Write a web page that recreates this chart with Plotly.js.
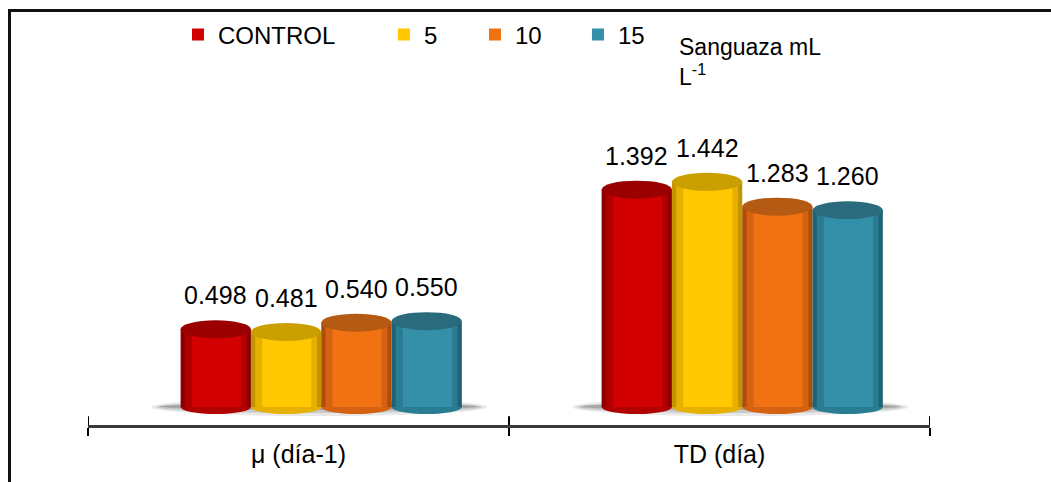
<!DOCTYPE html>
<html>
<head>
<meta charset="utf-8">
<script src="https://cdn.plot.ly/plotly-3.0.1.min.js"></script>
<style>
  html, body { margin: 0; padding: 0; background: #fff; }
  #chart { width: 1051px; height: 482px; }
  #frame {
    position: absolute; left: 8px; top: 9px; right: 0; bottom: 0;
    border-top: 3px solid #111; border-left: 3px solid #111;
    pointer-events: none;
  }
</style>
</head>
<body>
<div id="chart"></div>
<div id="frame"></div>
<script>
// Growth parameters per sanguaza dose
const categories = ['μ (día-1)', 'TD (día)'];
const seriesNames = ['CONTROL', '5', '10', '15'];
const control = [0.498, 1.392];
const dose5 = [0.481, 1.442];
const dose10 = [0.540, 1.283];
const dose15 = [0.550, 1.260];
const seriesValues = [control, dose5, dose10, dose15];

// Cylinder shading: dark edge, mid tone, body, top face
const edgeColors = ['#8a0000', '#c29400', '#ad4e08', '#1f6274'];
const midColors = ['#b00000', '#e6b000', '#d56210', '#2a7c92'];
const bodyColors = ['#d20000', '#ffc800', '#f07212', '#3490a8'];
const topColors = ['#9a0000', '#c9a000', '#b45a12', '#2a6c7e'];

const W = 0.167;           // bar width in category units
const firstOffset = -0.28; // left edge of the first bar relative to the category centre
const offsets = seriesNames.map((_, i) => firstOffset + i * W);

const FONT = 'Liberation Sans, Arial, sans-serif';
const traces = [];
const shapes = [];
const annotations = [];

// soft floor shadow under each group
categories.forEach((c, j) => {
  const x0 = j + offsets[0] - 0.07, x1 = j + offsets[3] + W + 0.06;
  [[-9, 9, 'rgba(0,0,0,0.09)'], [-6, 6, 'rgba(0,0,0,0.13)'], [-3, 4, 'rgba(0,0,0,0.18)']].forEach(s => {
    shapes.push({type: 'circle', xref: 'x', yref: 'y', ysizemode: 'pixel', yanchor: 0,
      x0: x0 + (9 - s[1]) * 0.004, x1: x1 - (9 - s[1]) * 0.004, y0: s[0], y1: s[1],
      fillcolor: s[2], line: {width: 0}, layer: 'below'});
  });
});

seriesNames.forEach((name, i) => {
  const vals = seriesValues[i];
  const off = offsets[i];
  traces.push({type: 'bar', x: categories, y: vals, width: W, offset: off,
    marker: {color: edgeColors[i], line: {width: 0}}, showlegend: false, hoverinfo: 'skip'});
  traces.push({type: 'bar', x: categories, y: vals, width: W * 0.88, offset: off + W * 0.06,
    marker: {color: midColors[i], line: {width: 0}}, showlegend: false, hoverinfo: 'skip'});
  traces.push({type: 'bar', name: name, x: categories, y: vals, width: W * 0.7, offset: off + W * 0.16,
    marker: {color: bodyColors[i], line: {width: 0}}, legend: i === 0 ? 'legend' : 'legend' + (i + 1),
    hoverinfo: 'skip'});

  vals.forEach((v, j) => {
    // rounded base
    shapes.push({type: 'circle', xref: 'x', yref: 'y', ysizemode: 'pixel', yanchor: 0,
      x0: j + off, x1: j + off + W, y0: -7, y1: 7,
      fillcolor: midColors[i], line: {width: 0}, layer: 'below'});
    // top face
    shapes.push({type: 'circle', xref: 'x', yref: 'y', ysizemode: 'pixel', yanchor: v,
      x0: j + off, x1: j + off + W, y0: -9, y1: 9,
      fillcolor: topColors[i], line: {width: 0}, layer: 'above'});
    annotations.push({x: j + off + W / 2, y: v, xref: 'x', yref: 'y', text: v.toFixed(3),
      showarrow: false, yanchor: 'bottom', yshift: 18,
      font: {family: FONT, size: 25, color: '#000'}});
  });
});

// upper half of the crossing tick marks
[-0.5, 0.5, 1.5].forEach(b => {
  shapes.push({type: 'line', xref: 'x', yref: 'paper', x0: b, x1: b, y0: 0, y1: 0.022,
    line: {color: '#000', width: 2}});
});

annotations.push({xref: 'paper', yref: 'paper', x: 0.7, y: 0.975, xanchor: 'left', yanchor: 'top',
  align: 'left', showarrow: false, text: 'Sanguaza mL<br>L<sup>-1</sup>',
  font: {family: FONT, size: 23, color: '#000'}});

const legendBase = {orientation: 'h', yanchor: 'middle', xanchor: 'left', y: 0.968,
  bgcolor: 'rgba(0,0,0,0)', font: {family: FONT, size: 24, color: '#000'}, itemclick: false};
const legendX = [0.1069, 0.3515, 0.4596, 0.5819];

const layout = {
  width: 1051, height: 482,
  margin: {l: 88, r: 121, t: 20, b: 57},
  paper_bgcolor: '#fff', plot_bgcolor: '#fff',
  barmode: 'overlay',
  showlegend: true,
  legend: Object.assign({}, legendBase, {x: legendX[0]}),
  legend2: Object.assign({}, legendBase, {x: legendX[1]}),
  legend3: Object.assign({}, legendBase, {x: legendX[2]}),
  legend4: Object.assign({}, legendBase, {x: legendX[3]}),
  xaxis: {type: 'category', range: [-0.5, 1.5], showline: true, linecolor: '#3a3a3a', linewidth: 2.5,
    ticks: 'outside', tickson: 'boundaries', ticklen: 8, tickwidth: 2, tickcolor: '#000',
    showgrid: false, zeroline: false, ticklabelstandoff: 5,
    tickfont: {family: FONT, size: 25, color: '#000'}},
  yaxis: {visible: false, range: [-0.1146, 2.465], showgrid: false, zeroline: false},
  shapes: shapes,
  annotations: annotations
};

Plotly.newPlot('chart', traces, layout, {displayModeBar: false, staticPlot: true});
</script>
</body>
</html>
